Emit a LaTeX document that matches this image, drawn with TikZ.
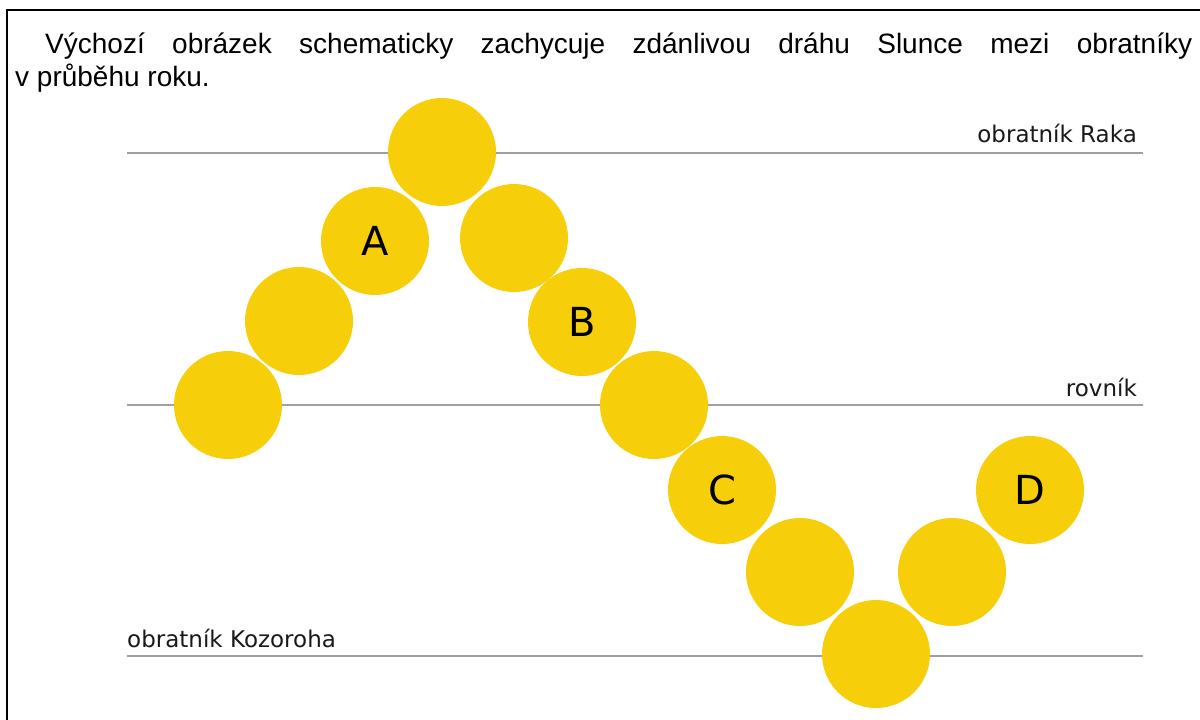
\documentclass[tikz,border=0pt]{standalone}
\usepackage{fontspec}
\setmainfont{Liberation Sans}
\newfontfamily\labfont{DejaVu Sans}
\definecolor{sunyellow}{RGB}{247,206,10}
\definecolor{linegray}{RGB}{160,160,160}
\definecolor{labtext}{RGB}{25,25,25}
\begin{document}
\begin{tikzpicture}[x=1pt,y=-1pt,
  sunball/.style={circle,fill=sunyellow,minimum size=108pt,inner sep=0pt,font=\labfont\fontsize{40}{40}\selectfont},
  tropic/.style={draw=linegray,line width=2pt},
  lab/.style={font=\labfont\fontsize{23}{23}\selectfont,inner sep=0pt,text=labtext},
  hdr/.style={font=\fontsize{28}{28}\selectfont,inner sep=0pt},
  frameline/.style={draw=black,line width=2pt}]
\useasboundingbox (0,0) rectangle (1200,720);
% frame
\coordinate (fBL) at (7,721);
\coordinate (fTL) at (7,10);
\coordinate (fTR) at (1201,10);
\draw[frameline] (fBL) -- (fTL) -- (fTR);
% header text
\node[hdr,anchor=base west] (t1) at (45,53) {\makebox[1147pt][s]{Výchozí obrázek schematicky zachycuje zdánlivou dráhu Slunce mezi obratníky}};
\node[hdr,anchor=base west] (t2) at (15,86) {v průběhu roku.};
% lines
\coordinate (rakaL) at (127,152.5);
\coordinate (rakaR) at (1143,152.5);
\coordinate (rovL) at (127,405);
\coordinate (rovR) at (1143,405);
\coordinate (kozL) at (127,656);
\coordinate (kozR) at (1143,656);
\draw[tropic] (rakaL) -- (rakaR);
\draw[tropic] (rovL) -- (rovR);
\draw[tropic] (kozL) -- (kozR);
\node[lab,anchor=base east] (lraka) at (1137,142) {obratník Raka};
\node[lab,anchor=base east] (lrov) at (1137,396) {rovník};
\node[lab,anchor=base west] (lkoz) at (127,647) {obratník Kozoroha};
% suns
\node[sunball] (s1) at (228,405) {};
\node[sunball] (s2) at (299,321) {};
\node[sunball] (s3) at (375,241) {A};
\node[sunball] (s4) at (442,152) {};
\node[sunball] (s5) at (514,238) {};
\node[sunball] (s6) at (582,322) {B};
\node[sunball] (s7) at (654,405) {};
\node[sunball] (s8) at (722,490) {C};
\node[sunball] (s9) at (800,572) {};
\node[sunball] (s10) at (876,654) {};
\node[sunball] (s11) at (952,572) {};
\node[sunball] (s12) at (1030,490) {D};
\end{tikzpicture}
\end{document}
